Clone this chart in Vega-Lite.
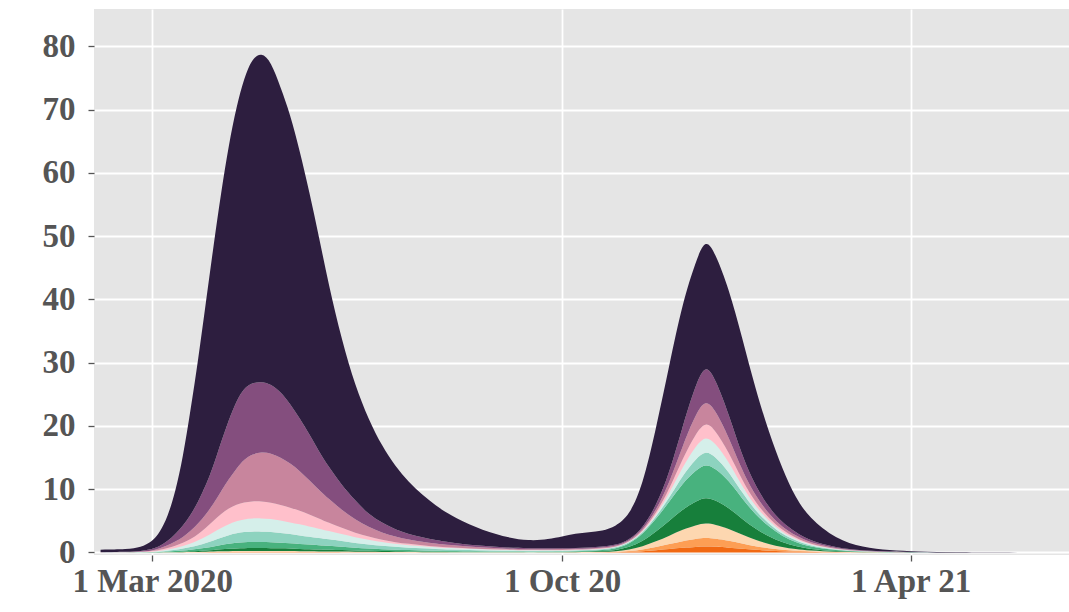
{
"$schema": "https://vega.github.io/schema/vega-lite/v6.json",
"width": 975,
"height": 546,
"autosize": {"type": "none"},
"padding": {"left": 94, "top": 9, "right": 0, "bottom": 57},
"background": "#ffffff",
"config": {
  "view": {"fill": "#e5e5e5", "stroke": null},
  "axis": {"labelFont": "Liberation Serif", "labelFontSize": 33, "labelFontWeight": "bold", "labelColor": "#555555", "tickColor": "#555555", "tickWidth": 1.3, "tickSize": 6, "domain": false, "grid": true, "gridColor": "#ffffff", "gridWidth": 1.8, "title": null}
},
"data": {"values": [
{"d":"2020-02-03","s":"s01","v":0},{"d":"2020-02-03","s":"s02","v":0},{"d":"2020-02-03","s":"s03","v":0},{"d":"2020-02-03","s":"s04","v":0.001},{"d":"2020-02-03","s":"s05","v":0.003},{"d":"2020-02-03","s":"s06","v":0.005},{"d":"2020-02-03","s":"s07","v":0.005},{"d":"2020-02-03","s":"s08","v":0.005},{"d":"2020-02-03","s":"s09","v":0.01},{"d":"2020-02-03","s":"s10","v":0.02},{"d":"2020-02-03","s":"s11","v":0.4},
{"d":"2020-02-17","s":"s01","v":0},{"d":"2020-02-17","s":"s02","v":0},{"d":"2020-02-17","s":"s03","v":0.001},{"d":"2020-02-17","s":"s04","v":0.002},{"d":"2020-02-17","s":"s05","v":0.004},{"d":"2020-02-17","s":"s06","v":0.008},{"d":"2020-02-17","s":"s07","v":0.005},{"d":"2020-02-17","s":"s08","v":0.01},{"d":"2020-02-17","s":"s09","v":0.02},{"d":"2020-02-17","s":"s10","v":0.03},{"d":"2020-02-17","s":"s11","v":0.42},
{"d":"2020-02-24","s":"s01","v":0},{"d":"2020-02-24","s":"s02","v":0.001},{"d":"2020-02-24","s":"s03","v":0.001},{"d":"2020-02-24","s":"s04","v":0.004},{"d":"2020-02-24","s":"s05","v":0.009},{"d":"2020-02-24","s":"s06","v":0.015},{"d":"2020-02-24","s":"s07","v":0.02},{"d":"2020-02-24","s":"s08","v":0.03},{"d":"2020-02-24","s":"s09","v":0.04},{"d":"2020-02-24","s":"s10","v":0.08},{"d":"2020-02-24","s":"s11","v":0.6},
{"d":"2020-03-01","s":"s01","v":0.001},{"d":"2020-03-01","s":"s02","v":0.001},{"d":"2020-03-01","s":"s03","v":0.003},{"d":"2020-03-01","s":"s04","v":0.009},{"d":"2020-03-01","s":"s05","v":0.02},{"d":"2020-03-01","s":"s06","v":0.035},{"d":"2020-03-01","s":"s07","v":0.05},{"d":"2020-03-01","s":"s08","v":0.08},{"d":"2020-03-01","s":"s09","v":0.1},{"d":"2020-03-01","s":"s10","v":0.2},{"d":"2020-03-01","s":"s11","v":1.2},
{"d":"2020-03-05","s":"s01","v":0.002},{"d":"2020-03-05","s":"s02","v":0.003},{"d":"2020-03-05","s":"s03","v":0.007},{"d":"2020-03-05","s":"s04","v":0.02},{"d":"2020-03-05","s":"s05","v":0.044},{"d":"2020-03-05","s":"s06","v":0.075},{"d":"2020-03-05","s":"s07","v":0.1},{"d":"2020-03-05","s":"s08","v":0.15},{"d":"2020-03-05","s":"s09","v":0.25},{"d":"2020-03-05","s":"s10","v":0.35},{"d":"2020-03-05","s":"s11","v":2.2},
{"d":"2020-03-09","s":"s01","v":0.003},{"d":"2020-03-09","s":"s02","v":0.005},{"d":"2020-03-09","s":"s03","v":0.012},{"d":"2020-03-09","s":"s04","v":0.036},{"d":"2020-03-09","s":"s05","v":0.078},{"d":"2020-03-09","s":"s06","v":0.135},{"d":"2020-03-09","s":"s07","v":0.18},{"d":"2020-03-09","s":"s08","v":0.25},{"d":"2020-03-09","s":"s09","v":0.4},{"d":"2020-03-09","s":"s10","v":0.7},{"d":"2020-03-09","s":"s11","v":3.8},
{"d":"2020-03-13","s":"s01","v":0.005},{"d":"2020-03-13","s":"s02","v":0.008},{"d":"2020-03-13","s":"s03","v":0.019},{"d":"2020-03-13","s":"s04","v":0.057},{"d":"2020-03-13","s":"s05","v":0.122},{"d":"2020-03-13","s":"s06","v":0.21},{"d":"2020-03-13","s":"s07","v":0.28},{"d":"2020-03-13","s":"s08","v":0.35},{"d":"2020-03-13","s":"s09","v":0.65},{"d":"2020-03-13","s":"s10","v":1.2},{"d":"2020-03-13","s":"s11","v":6.6},
{"d":"2020-03-17","s":"s01","v":0.007},{"d":"2020-03-17","s":"s02","v":0.011},{"d":"2020-03-17","s":"s03","v":0.027},{"d":"2020-03-17","s":"s04","v":0.081},{"d":"2020-03-17","s":"s05","v":0.174},{"d":"2020-03-17","s":"s06","v":0.3},{"d":"2020-03-17","s":"s07","v":0.4},{"d":"2020-03-17","s":"s08","v":0.5},{"d":"2020-03-17","s":"s09","v":0.9},{"d":"2020-03-17","s":"s10","v":1.8},{"d":"2020-03-17","s":"s11","v":10.8},
{"d":"2020-03-21","s":"s01","v":0.01},{"d":"2020-03-21","s":"s02","v":0.015},{"d":"2020-03-21","s":"s03","v":0.038},{"d":"2020-03-21","s":"s04","v":0.115},{"d":"2020-03-21","s":"s05","v":0.247},{"d":"2020-03-21","s":"s06","v":0.425},{"d":"2020-03-21","s":"s07","v":0.55},{"d":"2020-03-21","s":"s08","v":0.7},{"d":"2020-03-21","s":"s09","v":1.3},{"d":"2020-03-21","s":"s10","v":2.5},{"d":"2020-03-21","s":"s11","v":16.6},
{"d":"2020-03-25","s":"s01","v":0.014},{"d":"2020-03-25","s":"s02","v":0.021},{"d":"2020-03-25","s":"s03","v":0.052},{"d":"2020-03-25","s":"s04","v":0.155},{"d":"2020-03-25","s":"s05","v":0.334},{"d":"2020-03-25","s":"s06","v":0.575},{"d":"2020-03-25","s":"s07","v":0.75},{"d":"2020-03-25","s":"s08","v":1.0},{"d":"2020-03-25","s":"s09","v":1.7},{"d":"2020-03-25","s":"s10","v":3.4},{"d":"2020-03-25","s":"s11","v":22.5},
{"d":"2020-03-29","s":"s01","v":0.018},{"d":"2020-03-29","s":"s02","v":0.027},{"d":"2020-03-29","s":"s03","v":0.068},{"d":"2020-03-29","s":"s04","v":0.203},{"d":"2020-03-29","s":"s05","v":0.435},{"d":"2020-03-29","s":"s06","v":0.75},{"d":"2020-03-29","s":"s07","v":1.0},{"d":"2020-03-29","s":"s08","v":1.4},{"d":"2020-03-29","s":"s09","v":2.1},{"d":"2020-03-29","s":"s10","v":4.6},{"d":"2020-03-29","s":"s11","v":28.9},
{"d":"2020-04-02","s":"s01","v":0.023},{"d":"2020-04-02","s":"s02","v":0.034},{"d":"2020-04-02","s":"s03","v":0.086},{"d":"2020-04-02","s":"s04","v":0.257},{"d":"2020-04-02","s":"s05","v":0.551},{"d":"2020-04-02","s":"s06","v":0.95},{"d":"2020-04-02","s":"s07","v":1.3},{"d":"2020-04-02","s":"s08","v":1.8},{"d":"2020-04-02","s":"s09","v":2.7},{"d":"2020-04-02","s":"s10","v":6.0},{"d":"2020-04-02","s":"s11","v":34.8},
{"d":"2020-04-06","s":"s01","v":0.028},{"d":"2020-04-06","s":"s02","v":0.042},{"d":"2020-04-06","s":"s03","v":0.106},{"d":"2020-04-06","s":"s04","v":0.317},{"d":"2020-04-06","s":"s05","v":0.682},{"d":"2020-04-06","s":"s06","v":1.175},{"d":"2020-04-06","s":"s07","v":1.55},{"d":"2020-04-06","s":"s08","v":2.2},{"d":"2020-04-06","s":"s09","v":3.6},{"d":"2020-04-06","s":"s10","v":7.8},{"d":"2020-04-06","s":"s11","v":39.5},
{"d":"2020-04-10","s":"s01","v":0.033},{"d":"2020-04-10","s":"s02","v":0.05},{"d":"2020-04-10","s":"s03","v":0.124},{"d":"2020-04-10","s":"s04","v":0.371},{"d":"2020-04-10","s":"s05","v":0.798},{"d":"2020-04-10","s":"s06","v":1.375},{"d":"2020-04-10","s":"s07","v":1.75},{"d":"2020-04-10","s":"s08","v":2.5},{"d":"2020-04-10","s":"s09","v":4.6},{"d":"2020-04-10","s":"s10","v":9.4},{"d":"2020-04-10","s":"s11","v":43.5},
{"d":"2020-04-14","s":"s01","v":0.037},{"d":"2020-04-14","s":"s02","v":0.055},{"d":"2020-04-14","s":"s03","v":0.137},{"d":"2020-04-14","s":"s04","v":0.412},{"d":"2020-04-14","s":"s05","v":0.885},{"d":"2020-04-14","s":"s06","v":1.525},{"d":"2020-04-14","s":"s07","v":1.9},{"d":"2020-04-14","s":"s08","v":2.65},{"d":"2020-04-14","s":"s09","v":5.7},{"d":"2020-04-14","s":"s10","v":10.7},{"d":"2020-04-14","s":"s11","v":46.5},
{"d":"2020-04-18","s":"s01","v":0.039},{"d":"2020-04-18","s":"s02","v":0.059},{"d":"2020-04-18","s":"s03","v":0.146},{"d":"2020-04-18","s":"s04","v":0.439},{"d":"2020-04-18","s":"s05","v":0.943},{"d":"2020-04-18","s":"s06","v":1.625},{"d":"2020-04-18","s":"s07","v":2.0},{"d":"2020-04-18","s":"s08","v":2.65},{"d":"2020-04-18","s":"s09","v":6.8},{"d":"2020-04-18","s":"s10","v":11.3},{"d":"2020-04-18","s":"s11","v":49.0},
{"d":"2020-04-22","s":"s01","v":0.04},{"d":"2020-04-22","s":"s02","v":0.059},{"d":"2020-04-22","s":"s03","v":0.149},{"d":"2020-04-22","s":"s04","v":0.446},{"d":"2020-04-22","s":"s05","v":0.957},{"d":"2020-04-22","s":"s06","v":1.65},{"d":"2020-04-22","s":"s07","v":2.1},{"d":"2020-04-22","s":"s08","v":2.7},{"d":"2020-04-22","s":"s09","v":7.4},{"d":"2020-04-22","s":"s10","v":11.3},{"d":"2020-04-22","s":"s11","v":51.2},
{"d":"2020-04-27","s":"s01","v":0.04},{"d":"2020-04-27","s":"s02","v":0.059},{"d":"2020-04-27","s":"s03","v":0.149},{"d":"2020-04-27","s":"s04","v":0.446},{"d":"2020-04-27","s":"s05","v":0.957},{"d":"2020-04-27","s":"s06","v":1.65},{"d":"2020-04-27","s":"s07","v":2.1},{"d":"2020-04-27","s":"s08","v":2.7},{"d":"2020-04-27","s":"s09","v":7.8},{"d":"2020-04-27","s":"s10","v":11.1},{"d":"2020-04-27","s":"s11","v":52.1},
{"d":"2020-05-02","s":"s01","v":0.039},{"d":"2020-05-02","s":"s02","v":0.059},{"d":"2020-05-02","s":"s03","v":0.146},{"d":"2020-05-02","s":"s04","v":0.439},{"d":"2020-05-02","s":"s05","v":0.943},{"d":"2020-05-02","s":"s06","v":1.625},{"d":"2020-05-02","s":"s07","v":2.05},{"d":"2020-05-02","s":"s08","v":2.6},{"d":"2020-05-02","s":"s09","v":7.8},{"d":"2020-05-02","s":"s10","v":10.9},{"d":"2020-05-02","s":"s11","v":51.0},
{"d":"2020-05-07","s":"s01","v":0.037},{"d":"2020-05-07","s":"s02","v":0.056},{"d":"2020-05-07","s":"s03","v":0.14},{"d":"2020-05-07","s":"s04","v":0.419},{"d":"2020-05-07","s":"s05","v":0.899},{"d":"2020-05-07","s":"s06","v":1.55},{"d":"2020-05-07","s":"s07","v":1.95},{"d":"2020-05-07","s":"s08","v":2.45},{"d":"2020-05-07","s":"s09","v":7.5},{"d":"2020-05-07","s":"s10","v":10.4},{"d":"2020-05-07","s":"s11","v":48.1},
{"d":"2020-05-12","s":"s01","v":0.035},{"d":"2020-05-12","s":"s02","v":0.052},{"d":"2020-05-12","s":"s03","v":0.131},{"d":"2020-05-12","s":"s04","v":0.392},{"d":"2020-05-12","s":"s05","v":0.841},{"d":"2020-05-12","s":"s06","v":1.45},{"d":"2020-05-12","s":"s07","v":1.85},{"d":"2020-05-12","s":"s08","v":2.35},{"d":"2020-05-12","s":"s09","v":7.0},{"d":"2020-05-12","s":"s10","v":9.4},{"d":"2020-05-12","s":"s11","v":45.8},
{"d":"2020-05-17","s":"s01","v":0.032},{"d":"2020-05-17","s":"s02","v":0.049},{"d":"2020-05-17","s":"s03","v":0.122},{"d":"2020-05-17","s":"s04","v":0.365},{"d":"2020-05-17","s":"s05","v":0.783},{"d":"2020-05-17","s":"s06","v":1.35},{"d":"2020-05-17","s":"s07","v":1.75},{"d":"2020-05-17","s":"s08","v":2.15},{"d":"2020-05-17","s":"s09","v":6.3},{"d":"2020-05-17","s":"s10","v":8.3},{"d":"2020-05-17","s":"s11","v":42.3},
{"d":"2020-05-22","s":"s01","v":0.03},{"d":"2020-05-22","s":"s02","v":0.045},{"d":"2020-05-22","s":"s03","v":0.113},{"d":"2020-05-22","s":"s04","v":0.338},{"d":"2020-05-22","s":"s05","v":0.725},{"d":"2020-05-22","s":"s06","v":1.25},{"d":"2020-05-22","s":"s07","v":1.6},{"d":"2020-05-22","s":"s08","v":1.9},{"d":"2020-05-22","s":"s09","v":5.4},{"d":"2020-05-22","s":"s10","v":7.3},{"d":"2020-05-22","s":"s11","v":38.3},
{"d":"2020-05-27","s":"s01","v":0.028},{"d":"2020-05-27","s":"s02","v":0.041},{"d":"2020-05-27","s":"s03","v":0.104},{"d":"2020-05-27","s":"s04","v":0.311},{"d":"2020-05-27","s":"s05","v":0.667},{"d":"2020-05-27","s":"s06","v":1.15},{"d":"2020-05-27","s":"s07","v":1.45},{"d":"2020-05-27","s":"s08","v":1.65},{"d":"2020-05-27","s":"s09","v":4.5},{"d":"2020-05-27","s":"s10","v":6.1},{"d":"2020-05-27","s":"s11","v":34.0},
{"d":"2020-06-01","s":"s01","v":0.025},{"d":"2020-06-01","s":"s02","v":0.038},{"d":"2020-06-01","s":"s03","v":0.095},{"d":"2020-06-01","s":"s04","v":0.284},{"d":"2020-06-01","s":"s05","v":0.609},{"d":"2020-06-01","s":"s06","v":1.05},{"d":"2020-06-01","s":"s07","v":1.3},{"d":"2020-06-01","s":"s08","v":1.3},{"d":"2020-06-01","s":"s09","v":3.8},{"d":"2020-06-01","s":"s10","v":5.1},{"d":"2020-06-01","s":"s11","v":28.9},
{"d":"2020-06-08","s":"s01","v":0.022},{"d":"2020-06-08","s":"s02","v":0.032},{"d":"2020-06-08","s":"s03","v":0.081},{"d":"2020-06-08","s":"s04","v":0.243},{"d":"2020-06-08","s":"s05","v":0.522},{"d":"2020-06-08","s":"s06","v":0.9},{"d":"2020-06-08","s":"s07","v":1.1},{"d":"2020-06-08","s":"s08","v":1.0},{"d":"2020-06-08","s":"s09","v":2.8},{"d":"2020-06-08","s":"s10","v":3.9},{"d":"2020-06-08","s":"s11","v":22.9},
{"d":"2020-06-15","s":"s01","v":0.018},{"d":"2020-06-15","s":"s02","v":0.027},{"d":"2020-06-15","s":"s03","v":0.068},{"d":"2020-06-15","s":"s04","v":0.203},{"d":"2020-06-15","s":"s05","v":0.435},{"d":"2020-06-15","s":"s06","v":0.75},{"d":"2020-06-15","s":"s07","v":0.9},{"d":"2020-06-15","s":"s08","v":0.7},{"d":"2020-06-15","s":"s09","v":2.1},{"d":"2020-06-15","s":"s10","v":3.0},{"d":"2020-06-15","s":"s11","v":18.1},
{"d":"2020-06-22","s":"s01","v":0.015},{"d":"2020-06-22","s":"s02","v":0.023},{"d":"2020-06-22","s":"s03","v":0.056},{"d":"2020-06-22","s":"s04","v":0.169},{"d":"2020-06-22","s":"s05","v":0.363},{"d":"2020-06-22","s":"s06","v":0.625},{"d":"2020-06-22","s":"s07","v":0.75},{"d":"2020-06-22","s":"s08","v":0.5},{"d":"2020-06-22","s":"s09","v":1.5},{"d":"2020-06-22","s":"s10","v":2.0},{"d":"2020-06-22","s":"s11","v":15.0},
{"d":"2020-06-29","s":"s01","v":0.013},{"d":"2020-06-29","s":"s02","v":0.019},{"d":"2020-06-29","s":"s03","v":0.047},{"d":"2020-06-29","s":"s04","v":0.142},{"d":"2020-06-29","s":"s05","v":0.305},{"d":"2020-06-29","s":"s06","v":0.525},{"d":"2020-06-29","s":"s07","v":0.6},{"d":"2020-06-29","s":"s08","v":0.35},{"d":"2020-06-29","s":"s09","v":1.1},{"d":"2020-06-29","s":"s10","v":1.6},{"d":"2020-06-29","s":"s11","v":12.1},
{"d":"2020-07-06","s":"s01","v":0.011},{"d":"2020-07-06","s":"s02","v":0.016},{"d":"2020-07-06","s":"s03","v":0.04},{"d":"2020-07-06","s":"s04","v":0.119},{"d":"2020-07-06","s":"s05","v":0.255},{"d":"2020-07-06","s":"s06","v":0.44},{"d":"2020-07-06","s":"s07","v":0.47},{"d":"2020-07-06","s":"s08","v":0.25},{"d":"2020-07-06","s":"s09","v":0.9},{"d":"2020-07-06","s":"s10","v":1.1},{"d":"2020-07-06","s":"s11","v":10.0},
{"d":"2020-07-13","s":"s01","v":0.009},{"d":"2020-07-13","s":"s02","v":0.014},{"d":"2020-07-13","s":"s03","v":0.034},{"d":"2020-07-13","s":"s04","v":0.101},{"d":"2020-07-13","s":"s05","v":0.218},{"d":"2020-07-13","s":"s06","v":0.375},{"d":"2020-07-13","s":"s07","v":0.4},{"d":"2020-07-13","s":"s08","v":0.2},{"d":"2020-07-13","s":"s09","v":0.65},{"d":"2020-07-13","s":"s10","v":0.9},{"d":"2020-07-13","s":"s11","v":8.2},
{"d":"2020-07-20","s":"s01","v":0.008},{"d":"2020-07-20","s":"s02","v":0.012},{"d":"2020-07-20","s":"s03","v":0.029},{"d":"2020-07-20","s":"s04","v":0.088},{"d":"2020-07-20","s":"s05","v":0.189},{"d":"2020-07-20","s":"s06","v":0.325},{"d":"2020-07-20","s":"s07","v":0.35},{"d":"2020-07-20","s":"s08","v":0.15},{"d":"2020-07-20","s":"s09","v":0.55},{"d":"2020-07-20","s":"s10","v":0.7},{"d":"2020-07-20","s":"s11","v":6.7},
{"d":"2020-07-27","s":"s01","v":0.007},{"d":"2020-07-27","s":"s02","v":0.01},{"d":"2020-07-27","s":"s03","v":0.025},{"d":"2020-07-27","s":"s04","v":0.074},{"d":"2020-07-27","s":"s05","v":0.16},{"d":"2020-07-27","s":"s06","v":0.275},{"d":"2020-07-27","s":"s07","v":0.27},{"d":"2020-07-27","s":"s08","v":0.13},{"d":"2020-07-27","s":"s09","v":0.45},{"d":"2020-07-27","s":"s10","v":0.55},{"d":"2020-07-27","s":"s11","v":5.45},
{"d":"2020-08-03","s":"s01","v":0.006},{"d":"2020-08-03","s":"s02","v":0.008},{"d":"2020-08-03","s":"s03","v":0.021},{"d":"2020-08-03","s":"s04","v":0.063},{"d":"2020-08-03","s":"s05","v":0.136},{"d":"2020-08-03","s":"s06","v":0.235},{"d":"2020-08-03","s":"s07","v":0.23},{"d":"2020-08-03","s":"s08","v":0.1},{"d":"2020-08-03","s":"s09","v":0.4},{"d":"2020-08-03","s":"s10","v":0.4},{"d":"2020-08-03","s":"s11","v":4.4},
{"d":"2020-08-17","s":"s01","v":0.004},{"d":"2020-08-17","s":"s02","v":0.006},{"d":"2020-08-17","s":"s03","v":0.016},{"d":"2020-08-17","s":"s04","v":0.049},{"d":"2020-08-17","s":"s05","v":0.104},{"d":"2020-08-17","s":"s06","v":0.18},{"d":"2020-08-17","s":"s07","v":0.16},{"d":"2020-08-17","s":"s08","v":0.08},{"d":"2020-08-17","s":"s09","v":0.25},{"d":"2020-08-17","s":"s10","v":0.25},{"d":"2020-08-17","s":"s11","v":2.8},
{"d":"2020-08-31","s":"s01","v":0.003},{"d":"2020-08-31","s":"s02","v":0.005},{"d":"2020-08-31","s":"s03","v":0.013},{"d":"2020-08-31","s":"s04","v":0.038},{"d":"2020-08-31","s":"s05","v":0.081},{"d":"2020-08-31","s":"s06","v":0.14},{"d":"2020-08-31","s":"s07","v":0.12},{"d":"2020-08-31","s":"s08","v":0.05},{"d":"2020-08-31","s":"s09","v":0.17},{"d":"2020-08-31","s":"s10","v":0.18},{"d":"2020-08-31","s":"s11","v":1.7},
{"d":"2020-09-14","s":"s01","v":0.003},{"d":"2020-09-14","s":"s02","v":0.004},{"d":"2020-09-14","s":"s03","v":0.011},{"d":"2020-09-14","s":"s04","v":0.032},{"d":"2020-09-14","s":"s05","v":0.07},{"d":"2020-09-14","s":"s06","v":0.12},{"d":"2020-09-14","s":"s07","v":0.09},{"d":"2020-09-14","s":"s08","v":0.05},{"d":"2020-09-14","s":"s09","v":0.12},{"d":"2020-09-14","s":"s10","v":0.15},{"d":"2020-09-14","s":"s11","v":1.15},
{"d":"2020-09-24","s":"s01","v":0.003},{"d":"2020-09-24","s":"s02","v":0.005},{"d":"2020-09-24","s":"s03","v":0.011},{"d":"2020-09-24","s":"s04","v":0.034},{"d":"2020-09-24","s":"s05","v":0.072},{"d":"2020-09-24","s":"s06","v":0.125},{"d":"2020-09-24","s":"s07","v":0.08},{"d":"2020-09-24","s":"s08","v":0.05},{"d":"2020-09-24","s":"s09","v":0.12},{"d":"2020-09-24","s":"s10","v":0.15},{"d":"2020-09-24","s":"s11","v":1.45},
{"d":"2020-10-01","s":"s01","v":0.005},{"d":"2020-10-01","s":"s02","v":0.008},{"d":"2020-10-01","s":"s03","v":0.016},{"d":"2020-10-01","s":"s04","v":0.043},{"d":"2020-10-01","s":"s05","v":0.08},{"d":"2020-10-01","s":"s06","v":0.125},{"d":"2020-10-01","s":"s07","v":0.08},{"d":"2020-10-01","s":"s08","v":0.05},{"d":"2020-10-01","s":"s09","v":0.12},{"d":"2020-10-01","s":"s10","v":0.15},{"d":"2020-10-01","s":"s11","v":1.82},
{"d":"2020-10-08","s":"s01","v":0.008},{"d":"2020-10-08","s":"s02","v":0.012},{"d":"2020-10-08","s":"s03","v":0.022},{"d":"2020-10-08","s":"s04","v":0.055},{"d":"2020-10-08","s":"s05","v":0.096},{"d":"2020-10-08","s":"s06","v":0.125},{"d":"2020-10-08","s":"s07","v":0.08},{"d":"2020-10-08","s":"s08","v":0.05},{"d":"2020-10-08","s":"s09","v":0.12},{"d":"2020-10-08","s":"s10","v":0.15},{"d":"2020-10-08","s":"s11","v":2.28},
{"d":"2020-10-15","s":"s01","v":0.012},{"d":"2020-10-15","s":"s02","v":0.018},{"d":"2020-10-15","s":"s03","v":0.034},{"d":"2020-10-15","s":"s04","v":0.075},{"d":"2020-10-15","s":"s05","v":0.121},{"d":"2020-10-15","s":"s06","v":0.125},{"d":"2020-10-15","s":"s07","v":0.08},{"d":"2020-10-15","s":"s08","v":0.05},{"d":"2020-10-15","s":"s09","v":0.12},{"d":"2020-10-15","s":"s10","v":0.15},{"d":"2020-10-15","s":"s11","v":2.42},
{"d":"2020-10-22","s":"s01","v":0.02},{"d":"2020-10-22","s":"s02","v":0.029},{"d":"2020-10-22","s":"s03","v":0.052},{"d":"2020-10-22","s":"s04","v":0.106},{"d":"2020-10-22","s":"s05","v":0.162},{"d":"2020-10-22","s":"s06","v":0.127},{"d":"2020-10-22","s":"s07","v":0.082},{"d":"2020-10-22","s":"s08","v":0.052},{"d":"2020-10-22","s":"s09","v":0.123},{"d":"2020-10-22","s":"s10","v":0.155},{"d":"2020-10-22","s":"s11","v":2.49},
{"d":"2020-10-29","s":"s01","v":0.036},{"d":"2020-10-29","s":"s02","v":0.052},{"d":"2020-10-29","s":"s03","v":0.09},{"d":"2020-10-29","s":"s04","v":0.173},{"d":"2020-10-29","s":"s05","v":0.249},{"d":"2020-10-29","s":"s06","v":0.129},{"d":"2020-10-29","s":"s07","v":0.084},{"d":"2020-10-29","s":"s08","v":0.054},{"d":"2020-10-29","s":"s09","v":0.127},{"d":"2020-10-29","s":"s10","v":0.16},{"d":"2020-10-29","s":"s11","v":2.95},
{"d":"2020-11-05","s":"s01","v":0.087},{"d":"2020-11-05","s":"s02","v":0.125},{"d":"2020-11-05","s":"s03","v":0.215},{"d":"2020-11-05","s":"s04","v":0.391},{"d":"2020-11-05","s":"s05","v":0.529},{"d":"2020-11-05","s":"s06","v":0.136},{"d":"2020-11-05","s":"s07","v":0.093},{"d":"2020-11-05","s":"s08","v":0.063},{"d":"2020-11-05","s":"s09","v":0.14},{"d":"2020-11-05","s":"s10","v":0.181},{"d":"2020-11-05","s":"s11","v":3.84},
{"d":"2020-11-12","s":"s01","v":0.189},{"d":"2020-11-12","s":"s02","v":0.271},{"d":"2020-11-12","s":"s03","v":0.465},{"d":"2020-11-12","s":"s04","v":0.825},{"d":"2020-11-12","s":"s05","v":1.09},{"d":"2020-11-12","s":"s06","v":0.182},{"d":"2020-11-12","s":"s07","v":0.146},{"d":"2020-11-12","s":"s08","v":0.115},{"d":"2020-11-12","s":"s09","v":0.219},{"d":"2020-11-12","s":"s10","v":0.304},{"d":"2020-11-12","s":"s11","v":6.69},
{"d":"2020-11-19","s":"s01","v":0.356},{"d":"2020-11-19","s":"s02","v":0.51},{"d":"2020-11-19","s":"s03","v":0.874},{"d":"2020-11-19","s":"s04","v":1.536},{"d":"2020-11-19","s":"s05","v":2.008},{"d":"2020-11-19","s":"s06","v":0.315},{"d":"2020-11-19","s":"s07","v":0.3},{"d":"2020-11-19","s":"s08","v":0.265},{"d":"2020-11-19","s":"s09","v":0.45},{"d":"2020-11-19","s":"s10","v":0.662},{"d":"2020-11-19","s":"s11","v":12.22},
{"d":"2020-11-26","s":"s01","v":0.542},{"d":"2020-11-26","s":"s02","v":0.776},{"d":"2020-11-26","s":"s03","v":1.328},{"d":"2020-11-26","s":"s04","v":2.326},{"d":"2020-11-26","s":"s05","v":3.028},{"d":"2020-11-26","s":"s06","v":0.638},{"d":"2020-11-26","s":"s07","v":0.674},{"d":"2020-11-26","s":"s08","v":0.631},{"d":"2020-11-26","s":"s09","v":1.011},{"d":"2020-11-26","s":"s10","v":1.532},{"d":"2020-11-26","s":"s11","v":17.11},
{"d":"2020-12-03","s":"s01","v":0.747},{"d":"2020-12-03","s":"s02","v":1.069},{"d":"2020-12-03","s":"s03","v":1.827},{"d":"2020-12-03","s":"s04","v":3.195},{"d":"2020-12-03","s":"s05","v":4.15},{"d":"2020-12-03","s":"s06","v":1.227},{"d":"2020-12-03","s":"s07","v":1.356},{"d":"2020-12-03","s":"s08","v":1.297},{"d":"2020-12-03","s":"s09","v":2.034},{"d":"2020-12-03","s":"s10","v":3.12},{"d":"2020-12-03","s":"s11","v":19.58},
{"d":"2020-12-10","s":"s01","v":0.887},{"d":"2020-12-10","s":"s02","v":1.269},{"d":"2020-12-10","s":"s03","v":2.168},{"d":"2020-12-10","s":"s04","v":3.788},{"d":"2020-12-10","s":"s05","v":4.915},{"d":"2020-12-10","s":"s06","v":1.835},{"d":"2020-12-10","s":"s07","v":2.06},{"d":"2020-12-10","s":"s08","v":1.985},{"d":"2020-12-10","s":"s09","v":3.09},{"d":"2020-12-10","s":"s10","v":4.758},{"d":"2020-12-10","s":"s11","v":19.45},
{"d":"2020-12-15","s":"s01","v":0.96},{"d":"2020-12-15","s":"s02","v":1.37},{"d":"2020-12-15","s":"s03","v":2.34},{"d":"2020-12-15","s":"s04","v":4.09},{"d":"2020-12-15","s":"s05","v":5.3},{"d":"2020-12-15","s":"s06","v":2.08},{"d":"2020-12-15","s":"s07","v":2.34},{"d":"2020-12-15","s":"s08","v":2.26},{"d":"2020-12-15","s":"s09","v":3.5},{"d":"2020-12-15","s":"s10","v":5.6},{"d":"2020-12-15","s":"s11","v":19.9},
{"d":"2020-12-20","s":"s01","v":0.905},{"d":"2020-12-20","s":"s02","v":1.295},{"d":"2020-12-20","s":"s03","v":2.213},{"d":"2020-12-20","s":"s04","v":3.867},{"d":"2020-12-20","s":"s05","v":5.017},{"d":"2020-12-20","s":"s06","v":1.892},{"d":"2020-12-20","s":"s07","v":2.126},{"d":"2020-12-20","s":"s08","v":2.05},{"d":"2020-12-20","s":"s09","v":3.189},{"d":"2020-12-20","s":"s10","v":4.912},{"d":"2020-12-20","s":"s11","v":19.83},
{"d":"2020-12-27","s":"s01","v":0.775},{"d":"2020-12-27","s":"s02","v":1.109},{"d":"2020-12-27","s":"s03","v":1.895},{"d":"2020-12-27","s":"s04","v":3.314},{"d":"2020-12-27","s":"s05","v":4.303},{"d":"2020-12-27","s":"s06","v":1.417},{"d":"2020-12-27","s":"s07","v":1.576},{"d":"2020-12-27","s":"s08","v":1.512},{"d":"2020-12-27","s":"s09","v":2.364},{"d":"2020-12-27","s":"s10","v":3.632},{"d":"2020-12-27","s":"s11","v":19.9},
{"d":"2021-01-03","s":"s01","v":0.58},{"d":"2021-01-03","s":"s02","v":0.83},{"d":"2021-01-03","s":"s03","v":1.418},{"d":"2021-01-03","s":"s04","v":2.484},{"d":"2021-01-03","s":"s05","v":3.232},{"d":"2021-01-03","s":"s06","v":0.923},{"d":"2021-01-03","s":"s07","v":1.004},{"d":"2021-01-03","s":"s08","v":0.953},{"d":"2021-01-03","s":"s09","v":1.506},{"d":"2021-01-03","s":"s10","v":2.3},{"d":"2021-01-03","s":"s11","v":18.77},
{"d":"2021-01-10","s":"s01","v":0.403},{"d":"2021-01-10","s":"s02","v":0.577},{"d":"2021-01-10","s":"s03","v":0.987},{"d":"2021-01-10","s":"s04","v":1.734},{"d":"2021-01-10","s":"s05","v":2.263},{"d":"2021-01-10","s":"s06","v":0.638},{"d":"2021-01-10","s":"s07","v":0.674},{"d":"2021-01-10","s":"s08","v":0.631},{"d":"2021-01-10","s":"s09","v":1.011},{"d":"2021-01-10","s":"s10","v":1.532},{"d":"2021-01-10","s":"s11","v":15.35},
{"d":"2021-01-17","s":"s01","v":0.273},{"d":"2021-01-17","s":"s02","v":0.391},{"d":"2021-01-17","s":"s03","v":0.669},{"d":"2021-01-17","s":"s04","v":1.181},{"d":"2021-01-17","s":"s05","v":1.549},{"d":"2021-01-17","s":"s06","v":0.448},{"d":"2021-01-17","s":"s07","v":0.454},{"d":"2021-01-17","s":"s08","v":0.416},{"d":"2021-01-17","s":"s09","v":0.681},{"d":"2021-01-17","s":"s10","v":1.02},{"d":"2021-01-17","s":"s11","v":11.92},
{"d":"2021-01-24","s":"s01","v":0.17},{"d":"2021-01-24","s":"s02","v":0.244},{"d":"2021-01-24","s":"s03","v":0.42},{"d":"2021-01-24","s":"s04","v":0.746},{"d":"2021-01-24","s":"s05","v":0.988},{"d":"2021-01-24","s":"s06","v":0.334},{"d":"2021-01-24","s":"s07","v":0.322},{"d":"2021-01-24","s":"s08","v":0.287},{"d":"2021-01-24","s":"s09","v":0.483},{"d":"2021-01-24","s":"s10","v":0.713},{"d":"2021-01-24","s":"s11","v":8.49},
{"d":"2021-01-31","s":"s01","v":0.105},{"d":"2021-01-31","s":"s02","v":0.151},{"d":"2021-01-31","s":"s03","v":0.261},{"d":"2021-01-31","s":"s04","v":0.47},{"d":"2021-01-31","s":"s05","v":0.631},{"d":"2021-01-31","s":"s06","v":0.258},{"d":"2021-01-31","s":"s07","v":0.234},{"d":"2021-01-31","s":"s08","v":0.201},{"d":"2021-01-31","s":"s09","v":0.351},{"d":"2021-01-31","s":"s10","v":0.508},{"d":"2021-01-31","s":"s11","v":5.43},
{"d":"2021-02-07","s":"s01","v":0.058},{"d":"2021-02-07","s":"s02","v":0.084},{"d":"2021-02-07","s":"s03","v":0.145},{"d":"2021-02-07","s":"s04","v":0.265},{"d":"2021-02-07","s":"s05","v":0.362},{"d":"2021-02-07","s":"s06","v":0.176},{"d":"2021-02-07","s":"s07","v":0.152},{"d":"2021-02-07","s":"s08","v":0.126},{"d":"2021-02-07","s":"s09","v":0.228},{"d":"2021-02-07","s":"s10","v":0.325},{"d":"2021-02-07","s":"s11","v":3.58},
{"d":"2021-02-21","s":"s01","v":0.018},{"d":"2021-02-21","s":"s02","v":0.027},{"d":"2021-02-21","s":"s03","v":0.047},{"d":"2021-02-21","s":"s04","v":0.089},{"d":"2021-02-21","s":"s05","v":0.127},{"d":"2021-02-21","s":"s06","v":0.085},{"d":"2021-02-21","s":"s07","v":0.066},{"d":"2021-02-21","s":"s08","v":0.051},{"d":"2021-02-21","s":"s09","v":0.1},{"d":"2021-02-21","s":"s10","v":0.136},{"d":"2021-02-21","s":"s11","v":1.35},
{"d":"2021-03-07","s":"s01","v":0.006},{"d":"2021-03-07","s":"s02","v":0.008},{"d":"2021-03-07","s":"s03","v":0.014},{"d":"2021-03-07","s":"s04","v":0.03},{"d":"2021-03-07","s":"s05","v":0.047},{"d":"2021-03-07","s":"s06","v":0.044},{"d":"2021-03-07","s":"s07","v":0.031},{"d":"2021-03-07","s":"s08","v":0.021},{"d":"2021-03-07","s":"s09","v":0.046},{"d":"2021-03-07","s":"s10","v":0.06},{"d":"2021-03-07","s":"s11","v":0.49},
{"d":"2021-03-21","s":"s01","v":0.001},{"d":"2021-03-21","s":"s02","v":0.002},{"d":"2021-03-21","s":"s03","v":0.004},{"d":"2021-03-21","s":"s04","v":0.009},{"d":"2021-03-21","s":"s05","v":0.016},{"d":"2021-03-21","s":"s06","v":0.021},{"d":"2021-03-21","s":"s07","v":0.014},{"d":"2021-03-21","s":"s08","v":0.01},{"d":"2021-03-21","s":"s09","v":0.021},{"d":"2021-03-21","s":"s10","v":0.028},{"d":"2021-03-21","s":"s11","v":0.22},
{"d":"2021-04-04","s":"s01","v":0},{"d":"2021-04-04","s":"s02","v":0},{"d":"2021-04-04","s":"s03","v":0.001},{"d":"2021-04-04","s":"s04","v":0.002},{"d":"2021-04-04","s":"s05","v":0.004},{"d":"2021-04-04","s":"s06","v":0.006},{"d":"2021-04-04","s":"s07","v":0.004},{"d":"2021-04-04","s":"s08","v":0.003},{"d":"2021-04-04","s":"s09","v":0.006},{"d":"2021-04-04","s":"s10","v":0.008},{"d":"2021-04-04","s":"s11","v":0.12},
{"d":"2021-04-25","s":"s01","v":0},{"d":"2021-04-25","s":"s02","v":0},{"d":"2021-04-25","s":"s03","v":0},{"d":"2021-04-25","s":"s04","v":0},{"d":"2021-04-25","s":"s05","v":0},{"d":"2021-04-25","s":"s06","v":0},{"d":"2021-04-25","s":"s07","v":0},{"d":"2021-04-25","s":"s08","v":0},{"d":"2021-04-25","s":"s09","v":0},{"d":"2021-04-25","s":"s10","v":0},{"d":"2021-04-25","s":"s11","v":0.05},
{"d":"2021-05-16","s":"s01","v":0},{"d":"2021-05-16","s":"s02","v":0},{"d":"2021-05-16","s":"s03","v":0},{"d":"2021-05-16","s":"s04","v":0},{"d":"2021-05-16","s":"s05","v":0},{"d":"2021-05-16","s":"s06","v":0},{"d":"2021-05-16","s":"s07","v":0},{"d":"2021-05-16","s":"s08","v":0},{"d":"2021-05-16","s":"s09","v":0},{"d":"2021-05-16","s":"s10","v":0},{"d":"2021-05-16","s":"s11","v":0.01},
{"d":"2021-06-18","s":"s01","v":0},{"d":"2021-06-18","s":"s02","v":0},{"d":"2021-06-18","s":"s03","v":0},{"d":"2021-06-18","s":"s04","v":0},{"d":"2021-06-18","s":"s05","v":0},{"d":"2021-06-18","s":"s06","v":0},{"d":"2021-06-18","s":"s07","v":0},{"d":"2021-06-18","s":"s08","v":0},{"d":"2021-06-18","s":"s09","v":0},{"d":"2021-06-18","s":"s10","v":0},{"d":"2021-06-18","s":"s11","v":0}
]},
"mark": {"type": "area", "interpolate": "basis"},
"encoding": {
  "x": {"field": "d", "type": "temporal",
    "scale": {"type": "utc", "nice": false, "domain": [{"year": 2020, "month": 1, "date": 30, "hours": 14, "utc": true}, {"year": 2021, "month": 6, "date": 22, "hours": 17, "utc": true}]},
    "axis": {"values": [{"year": 2020, "month": 3, "date": 1, "utc": true}, {"year": 2020, "month": 10, "date": 1, "utc": true}, {"year": 2021, "month": 4, "date": 1, "utc": true}],
      "labelExpr": "utcmonth(datum.value) == 2 ? '1 Mar 2020' : (utcmonth(datum.value) == 9 ? '1 Oct 20' : '1 Apr 21')",
      "labelPadding": 4, "labelFlush": false, "labelOverlap": false}},
  "y": {"field": "v", "type": "quantitative", "stack": "zero",
    "scale": {"domain": [-0.4, 85.9], "nice": false, "zero": false},
    "axis": {"values": [0, 10, 20, 30, 40, 50, 60, 70, 80], "labelPadding": 13}},
  "color": {"field": "s", "type": "nominal", "legend": null,
    "scale": {"domain": ["s01","s02","s03","s04","s05","s06","s07","s08","s09","s10","s11"],
      "range": ["#f16913","#fd9e54","#fdd7b0","#177f3b","#48b27e","#8dd3bf","#d5efea","#ffc0cb","#c8859d","#844e7e","#2d1e3f"]}},
  "order": {"field": "s", "sort": "ascending"}
}
}
